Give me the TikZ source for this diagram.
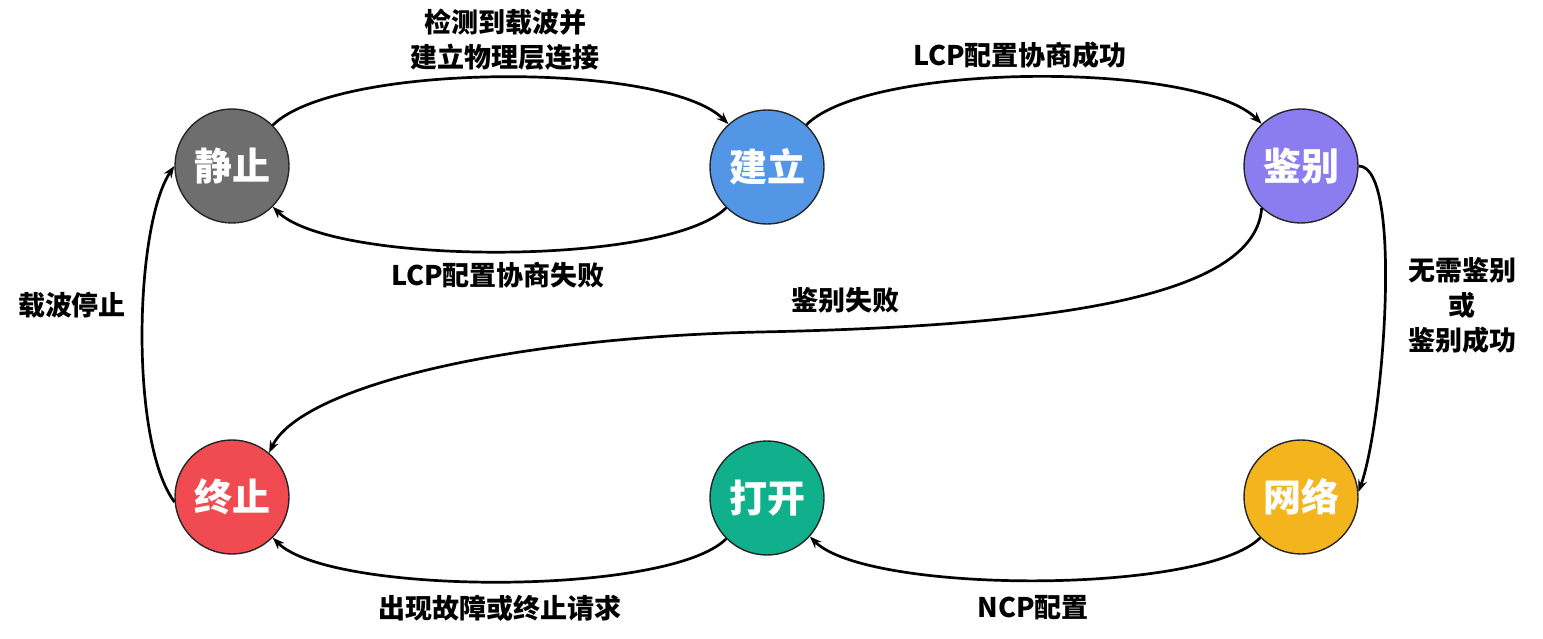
\documentclass[tikz,border=0pt]{standalone}
\usepackage{fontspec}
\setmainfont{Noto Sans CJK SC}
\usetikzlibrary{arrows.meta}
\definecolor{stgray}{HTML}{6E6E6E}
\definecolor{stblue}{HTML}{5496E6}
\definecolor{stpurple}{HTML}{8B7CF0}
\definecolor{stred}{HTML}{F04B50}
\definecolor{stgreen}{HTML}{10B08C}
\definecolor{styellow}{HTML}{F3B41E}

\begin{document}
\begin{tikzpicture}[x=1pt, y=1pt,
	stnode/.style={circle, draw=black!85, line width=1.4pt, minimum size=114pt, inner sep=0pt, text=white, font=\fontsize{38}{44}\selectfont\bfseries},
	trans/.style={line width=2.7pt, -{Stealth[length=12pt, width=9pt]}},
	lbl/.style={font=\fontsize{27}{35}\selectfont\bfseries, align=center}]
	\useasboundingbox (0,0) rectangle (1543,638);
	% states
	\foreach \nm/\x/\y/\col/\txt in {jingzhi/232/472/stgray/静止, jianli/767/471/stblue/建立, jianbie/1301/472/stpurple/鉴别,
		zhongzhi/232/141/stred/终止, dakai/767/140/stgreen/打开, wangluo/1301/141/styellow/网络} {
		\node[stnode, fill=\col] (\nm) at (\x,\y) {\txt};
	}
	% transitions
	\draw[trans] (jingzhi.45) to[out=45, in=135, looseness=0.5] (jianli.132);
	\draw[trans] (jianli.225) to[out=225, in=-45, looseness=0.47] (jingzhi.315);
	\draw[trans] (jianli.47) to[out=45, in=135, looseness=0.5] (jianbie.133);
	\draw[trans] (jianbie.0) .. controls +(45,0) and +(25,70) .. (wangluo.5);
	\draw[trans] (jianbie.227) .. controls (1255,340) and (1050,312) .. (760,306) .. controls (500,300) and (300,250) .. (zhongzhi.50);
	\draw[trans] (wangluo.225) to[out=225, in=-45, looseness=0.46] (dakai.318);
	\draw[trans] (dakai.225) to[out=225, in=-45, looseness=0.46] (zhongzhi.315);
	\draw[trans] (zhongzhi.185) .. controls +(-45,60) and +(-40,-60) .. (jingzhi.180);
	% labels
	\node[lbl] (lbljc) at (505,598) {检测到载波并\\建立物理层连接};
	\node[lbl] (lblfail) at (498,363) {LCP配置协商失败};
	\node[lbl] (lblok) at (1020,583) {LCP配置协商成功};
	\node[lbl] (lblwx) at (1462,333) {无需鉴别\\或\\鉴别成功};
	\node[lbl] (lbljb) at (845,338) {鉴别失败};
	\node[lbl] (lblncp) at (1033,30) {NCP配置};
	\node[lbl] (lblgz) at (500,30) {出现故障或终止请求};
	\node[lbl] (lblzb) at (72,333) {载波停止};
\end{tikzpicture}
\end{document}
